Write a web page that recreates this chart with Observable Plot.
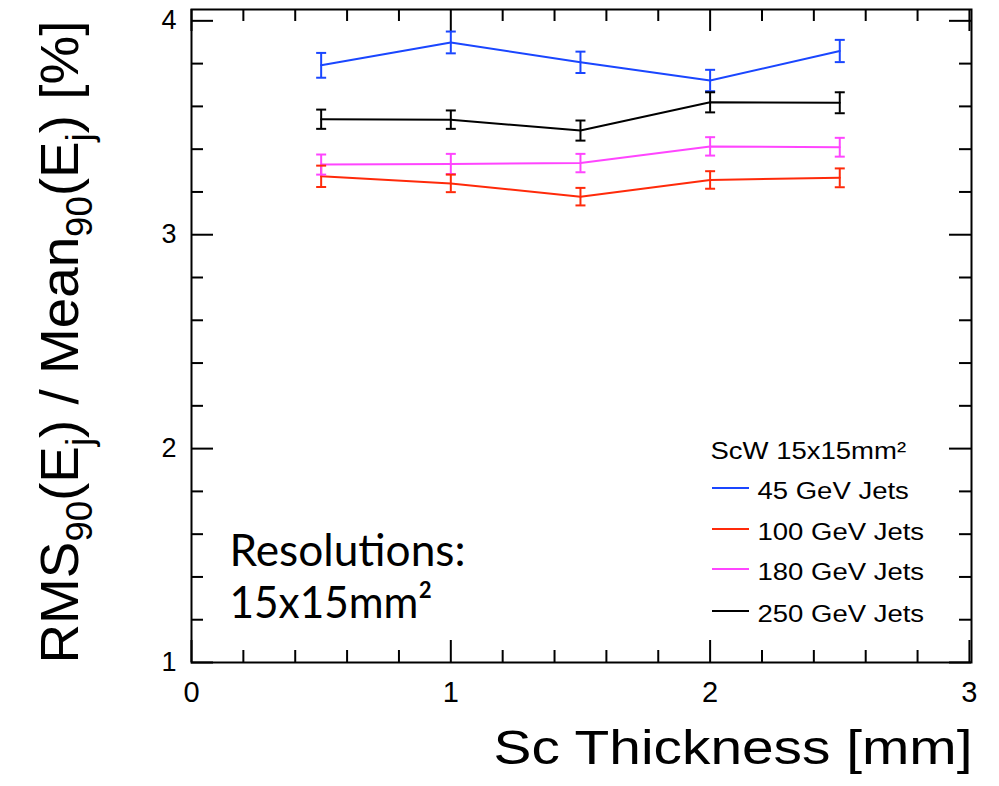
<!DOCTYPE html>
<html>
<head>
<meta charset="utf-8">
<script src="https://cdn.jsdelivr.net/npm/d3@7"></script>
<script src="https://cdn.jsdelivr.net/npm/@observablehq/plot@0.6"></script>
<style>
  body { margin: 0; background: #fff; }
  #chart svg { display: block; }
</style>
</head>
<body>
<div id="chart"></div>
<script>
// ---- data ----
const thickness = [0.5, 1, 1.5, 2, 2.5];
const seriesNames = ["45 GeV Jets", "100 GeV Jets", "180 GeV Jets", "250 GeV Jets"];
const seriesColors = ["#1a46ff", "#ff2a0a", "#ff45ff", "#000000"];
const res45  = [3.792, 3.899, 3.806, 3.721, 3.859];
const err45  = [0.058, 0.051, 0.050, 0.050, 0.052];
const res100 = [3.273, 3.240, 3.178, 3.256, 3.266];
const err100 = [0.050, 0.041, 0.041, 0.041, 0.044];
const res180 = [3.328, 3.331, 3.335, 3.413, 3.409];
const err180 = [0.047, 0.047, 0.043, 0.043, 0.044];
const res250 = [3.540, 3.538, 3.487, 3.619, 3.617];
const err250 = [0.045, 0.043, 0.047, 0.047, 0.049];
const xTicks = [0, 1, 2, 3];
const yTicks = [1, 2, 3, 4];
const xMinor = [0.2, 0.4, 0.6, 0.8, 1.2, 1.4, 1.6, 1.8, 2.2, 2.4, 2.6, 2.8];
const yMinor = [1.2, 1.4, 1.6, 1.8, 2.2, 2.4, 2.6, 2.8, 3.2, 3.4, 3.6, 3.8];
const xLabel = "Sc Thickness [mm]";
const yLabel = "RMS90(Ej) / Mean90(Ej) [%]";
const legendTitle = "ScW 15x15mm²";
const noteLines = ["Resolutions:", "15x15mm²"];

// ---- table ----
const seriesValues = [res45, res100, res180, res250];
const seriesErrors = [err45, err100, err180, err250];
const rows = seriesNames.flatMap((s, i) => thickness.map((t, j) => ({
  series: s, x: t, y: seriesValues[i][j],
  lo: seriesValues[i][j] - seriesErrors[i][j],
  hi: seriesValues[i][j] + seriesErrors[i][j]
})));

const W = 999, H = 786, mL = 191, mR = 28, mT = 9, mB = 124;
const plotW = W - mL - mR, plotH = H - mT - mB;
const capSymbol = { draw(ctx, size) { const r = Math.sqrt(size / Math.PI); ctx.moveTo(-r, 0); ctx.lineTo(r, 0); } };
const tk = { stroke: "black", strokeWidth: 2 };
const legendDy = [-164, -123, -83, -41];   // text baselines relative to the frame bottom

const legendMarks = seriesNames.map((s, i) =>
  Plot.text([s], { frameAnchor: "bottom-right", dx: -214, dy: legendDy[i], textAnchor: "start", lineAnchor: "bottom", fontSize: 23.5 })
);

const chart = Plot.plot({
  width: W, height: H,
  marginLeft: mL, marginRight: mR, marginTop: mT, marginBottom: mB,
  style: { fontFamily: "'Liberation Sans', Arial, sans-serif", background: "white", color: "black" },
  x: { domain: [0, 3.008] },
  y: { domain: [1, 4.053] },
  color: { domain: seriesNames, range: seriesColors },
  marks: [
    Plot.ruleX(xTicks, { ...tk, insetTop: plotH - 22 }),
    Plot.ruleX(xMinor, { ...tk, insetTop: plotH - 12 }),
    Plot.ruleX(xTicks, { ...tk, insetBottom: plotH - 22 }),
    Plot.ruleX(xMinor, { ...tk, insetBottom: plotH - 12 }),
    Plot.ruleY(yTicks, { ...tk, insetRight: plotW - 22 }),
    Plot.ruleY(yMinor, { ...tk, insetRight: plotW - 12 }),
    Plot.ruleY(yTicks, { ...tk, insetLeft: plotW - 22 }),
    Plot.ruleY(yMinor, { ...tk, insetLeft: plotW - 12 }),
    Plot.frame({ stroke: "black", strokeWidth: 2 }),
    Plot.axisX({ ticks: xTicks, tickFormat: d => String(d), tickSize: 0, tickPadding: 19, fontSize: 29, label: null }),
    Plot.axisY({ ticks: yTicks, tickFormat: d => String(d), tickSize: 0, tickPadding: 15, fontSize: 27, label: null }),
    Plot.line(rows, { x: "x", y: "y", z: "series", stroke: "series", strokeWidth: 2 }),
    Plot.ruleX(rows, { x: "x", y1: "lo", y2: "hi", stroke: "series", strokeWidth: 2 }),
    Plot.dot(rows, { x: "x", y: "lo", symbol: capSymbol, r: 5, fill: "none", stroke: "series", strokeWidth: 2 }),
    Plot.dot(rows, { x: "x", y: "hi", symbol: capSymbol, r: 5, fill: "none", stroke: "series", strokeWidth: 2 }),
    // axis titles
    Plot.text([xLabel], { frameAnchor: "bottom-right", dx: 1, dy: 101, textAnchor: "end", lineAnchor: "bottom", fontSize: 49 }),
    Plot.text([yLabel], { frameAnchor: "left", rotate: -90, dx: -114, dy: 6, textAnchor: "middle", lineAnchor: "bottom", fontSize: 54 }),
    // note
    Plot.text([noteLines[0]], { frameAnchor: "bottom-left", dx: 38, dy: -97, textAnchor: "start", lineAnchor: "bottom", fontSize: 44, fontFamily: "Lato" }),
    Plot.text([noteLines[1]], { frameAnchor: "bottom-left", dx: 38, dy: -45, textAnchor: "start", lineAnchor: "bottom", fontSize: 44, fontFamily: "Lato" }),
    // legend
    Plot.text([legendTitle], { frameAnchor: "bottom-right", dx: -261, dy: -204, textAnchor: "start", lineAnchor: "bottom", fontSize: 23.5 }),
    ...legendMarks
  ]
});

document.getElementById("chart").appendChild(chart);
const svg = d3.select(chart);

// legend swatches
const lg = svg.append("g");
seriesNames.forEach((s, i) => {
  const yb = H - mB + legendDy[i] - 10;
  lg.append("line").attr("x1", 712).attr("x2", 749)
    .attr("y1", yb).attr("y2", yb)
    .attr("stroke", seriesColors[i]).attr("stroke-width", 2);
});

// y label with subscripts
svg.selectAll("text").filter(function () { return this.textContent === yLabel; }).each(function () {
  const t = d3.select(this);
  t.text(null);
  const parts = [["RMS", 0], ["90", 1], ["(E", 0], ["j", 1], [") / Mean", 0], ["90", 1], ["(E", 0], ["j", 1], [") [%]", 0]];
  let shifted = false;
  parts.forEach(([p, sub]) => {
    const ts = t.append("tspan").text(p);
    if (sub) { ts.attr("font-size", 36); if (!shifted) { ts.attr("dy", 14); shifted = true; } }
    else if (shifted) { ts.attr("dy", -14); shifted = false; }
  });
  this.setAttribute("textLength", 643);
  this.setAttribute("lengthAdjust", "spacingAndGlyphs");
});

// horizontal stretch of the larger texts to match the reference's wide glyphs
const tickStrings = new Set([...xTicks, ...yTicks].map(String));
svg.selectAll("text").each(function () {
  if (this.hasAttribute("textLength")) return;
  const c = this.textContent;
  if (tickStrings.has(c)) return;
  let target;
  if (c === noteLines[0]) target = 236;
  else if (c === noteLines[1]) target = 203;
  else if (c === xLabel) target = 479;
  else target = this.getComputedTextLength() * 1.17;
  this.setAttribute("textLength", target);
  this.setAttribute("lengthAdjust", "spacingAndGlyphs");
});
</script>
</body>
</html>
